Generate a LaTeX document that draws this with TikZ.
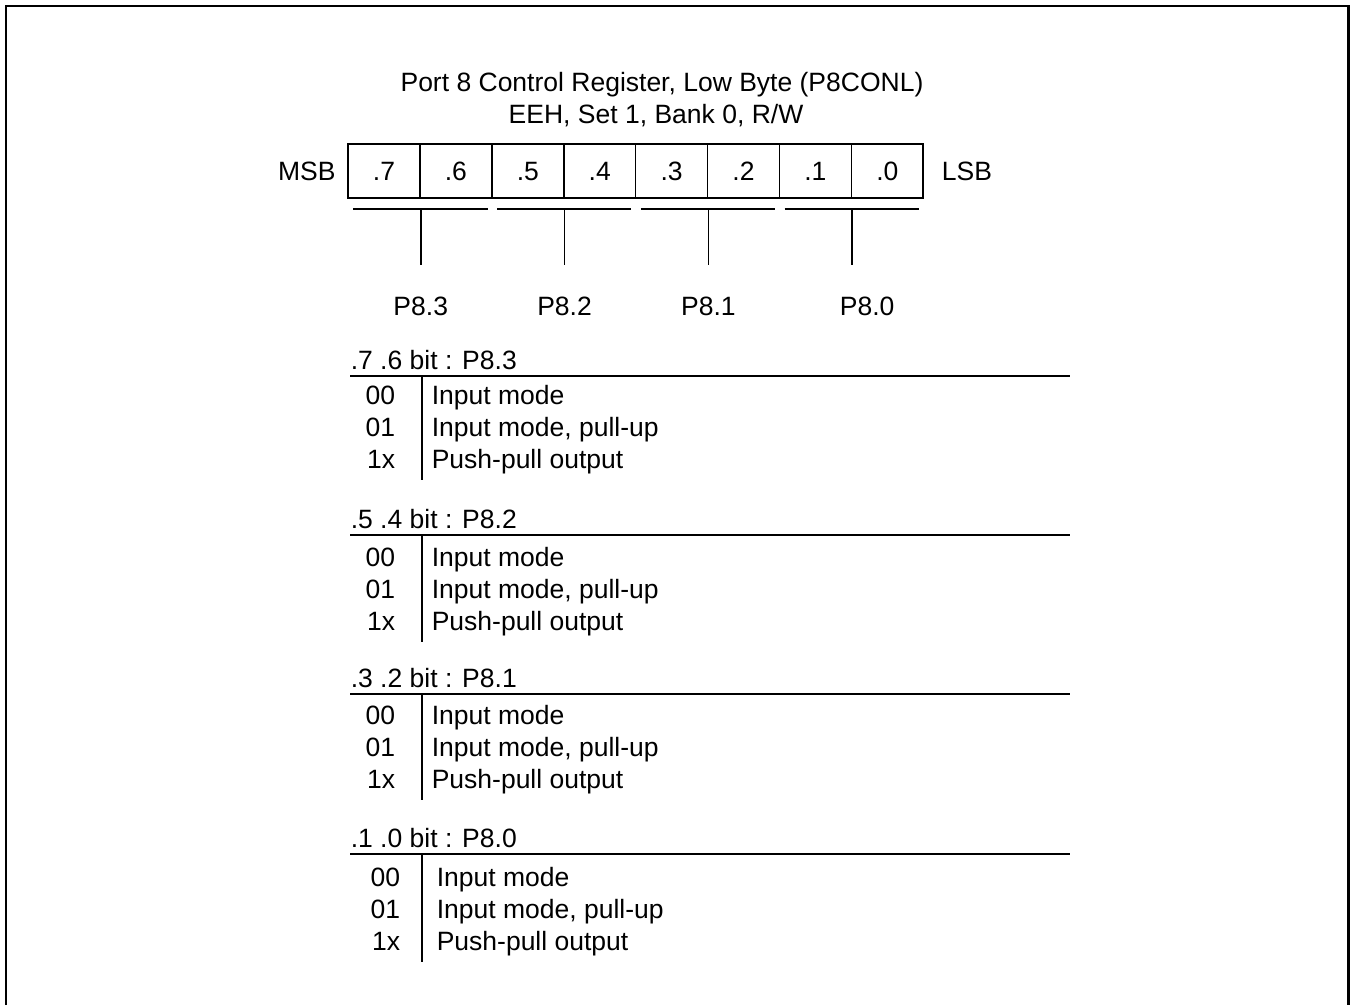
\documentclass[tikz,border=0pt]{standalone}
\usepackage{fontspec}
\setmainfont{Liberation Sans}
\usetikzlibrary{positioning,calc}

\tikzset{
  txt/.style={inner sep=0pt, text height=19pt, text depth=0pt,
    font=\fontsize{26.5}{31}\selectfont},
  bitcell/.style={txt, draw, line width=1.6pt, minimum width=71.9pt,
    minimum height=54pt},
  rule/.style={line width=1.8pt},
}

\begin{document}
\begin{tikzpicture}[x=1pt, y=-1pt, line width=1.6pt]
    \useasboundingbox (0,0) rectangle (1354,1005);
    % Frame, open at the bottom
    \draw[line width=2.5pt] (6.2,1005) -- (6.2,6.2) -- (1348.6,6.2) -- (1348.6,1005);
    % Title
    \node[txt] (title) at (662,82) {Port 8 Control Register, Low Byte (P8CONL)};
    \node[txt] (addr) at (656,114) {EEH, Set 1, Bank 0, R/W};
    % Register bits
    \foreach \b [count=\i from 0] in {7,...,0}
      \node[bitcell] (c\b) at (384+71.9*\i,171) {.\b};
    \node[txt, left=11pt of c7] (msb) {MSB};
    \node[txt, right=17pt of c0] (lsb) {LSB};
    % Bit pairs and port pins
    \foreach \hi/\lo/\p/\dx in {7/6/3/0, 5/4/2/0, 3/2/1/0, 1/0/0/15} {
      \coordinate (g\p) at ($(c\hi.south east)+(0,10)$);
      \draw ($(c\hi.south west)+(6,10)$) -- ($(c\lo.south east)+(-5,10)$);
      \node[txt] (p\p) at ($(g\p)+(\dx,97)$) {P8.\p};
      \draw (g\p) -- ($(g\p |- p\p.north)+(0,-31)$);
    }
    % Mode tables
    \foreach \hy/\bits/\p/\sh/\ro [count=\k] in
        {360/{.7 .6}/3/0/19, 519/{.5 .4}/2/0/22, 678/{.3 .2}/1/0/21, 838/{.1 .0}/0/5/23} {
      \node[txt, anchor=west] (h\k) at (350,\hy) {\bits{} bit : P8.\p};
      \coordinate (ls\k) at (350,\hy+16);
      \coordinate (le\k) at (1070,\hy+16);
      \draw[rule] (ls\k) -- (le\k);
      \foreach \code/\mode [count=\r from 0] in
          {00/Input mode, 01/{Input mode, pull-up}, 1x/Push-pull output} {
        \node[txt, anchor=east] (v\k\r) at (396+\sh,\hy+16+\ro+32*\r) {\code};
        \node[txt, anchor=west] (m\k\r) at (431+\sh,\hy+16+\ro+32*\r) {\mode};
      }
      \coordinate (vt\k) at (422,\hy+16);
      \draw (vt\k) -- ($(vt\k)+(0,\ro+64+21)$);
    }
\end{tikzpicture}
\end{document}
